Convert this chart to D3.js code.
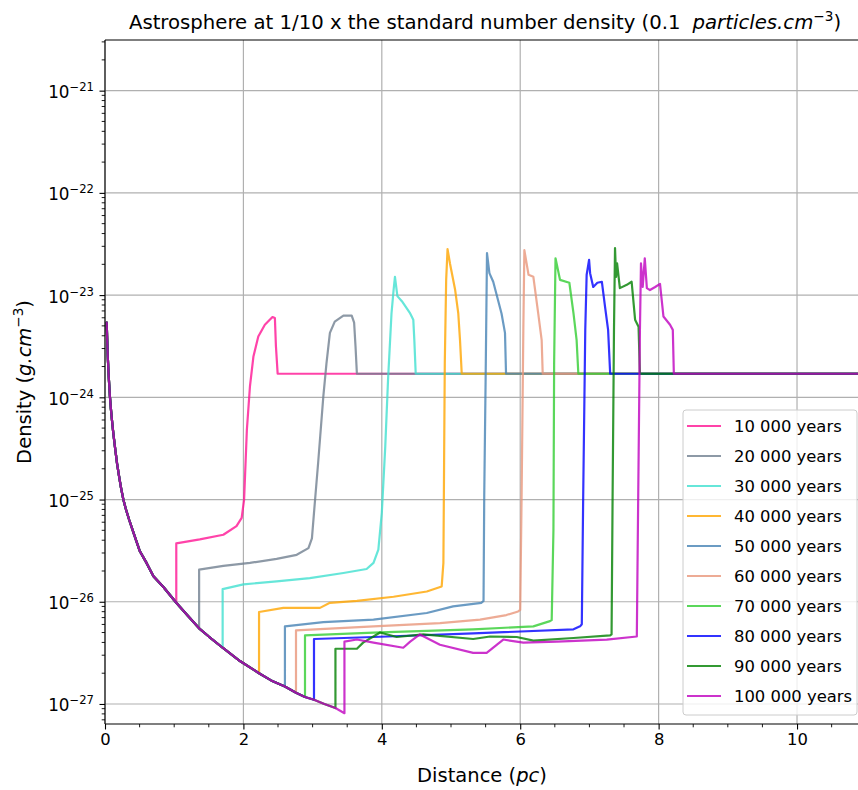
<!DOCTYPE html>
<html>
<head>
<meta charset="utf-8">
<script src="https://cdn.jsdelivr.net/npm/d3@7"></script>
<style>
  body { margin: 0; background: #fff; }
  svg { display: block; }
  text { font-family: "DejaVu Sans", sans-serif; fill: #000; }
</style>
</head>
<body>
<svg id="chart" width="858" height="790"></svg>
<script>
// ---- data: density profiles of the astrosphere (distance in pc, density in g/cm^3) ----
const ageLabels = ["10 000 years", "20 000 years", "30 000 years", "40 000 years", "50 000 years",
                   "60 000 years", "70 000 years", "80 000 years", "90 000 years", "100 000 years"];
const lineColors = ["#ff1493", "#708090", "#40e0d0", "#ffa500", "#4682b4",
                    "#e9967a", "#32cd32", "#0000ff", "#008000", "#bf00bf"];
const xTickValues = [0, 2, 4, 6, 8, 10];
const yTickExponents = [-27, -26, -25, -24, -23, -22, -21];
const xExtent = [0, 10.91];
const yExtent = [6.37e-28, 3.13e-21];
const ambientDensity = 1.70e-24;

// free-flowing stellar wind, common to every epoch
const windProfile = [
  [0.025, 5.37e-24], [0.03, 3.98e-24], [0.035, 3.16e-24], [0.04, 2.51e-24], [0.05, 1.78e-24],
  [0.06, 1.35e-24], [0.072, 1.00e-24], [0.085, 7.76e-25], [0.1, 6.03e-25], [0.12, 4.47e-25],
  [0.15, 3.02e-25], [0.175, 2.24e-25], [0.2, 1.74e-25], [0.23, 1.32e-25], [0.265, 1.00e-25],
  [0.3, 8.13e-26], [0.35, 6.31e-26], [0.42, 4.57e-26], [0.5, 3.16e-26], [0.6, 2.40e-26],
  [0.7, 1.78e-26], [0.85, 1.38e-26], [1.03, 9.77e-27], [1.2, 7.24e-27], [1.36, 5.50e-27],
  [1.5, 4.57e-27], [1.70, 3.55e-27], [1.95, 2.63e-27], [2.226, 2.00e-27], [2.4, 1.70e-27],
  [2.60, 1.48e-27], [2.76, 1.29e-27], [2.89, 1.17e-27], [3.02, 1.10e-27], [3.17, 1.00e-27],
  [3.33, 9.12e-28], [3.46, 8.13e-28]
];

// shocked wind + swept-up shell, from the reverse shock to the forward shock
const shell10k = [
  [1.03, 9.77e-27], [1.03, 3.72e-26], [1.37, 4.07e-26], [1.71, 4.52e-26], [1.90, 5.50e-26],
  [1.975, 6.61e-26], [2.01, 1.00e-25], [2.05, 4.79e-25], [2.095, 1.29e-24], [2.145, 2.51e-24],
  [2.215, 3.94e-24], [2.31, 5.13e-24], [2.42, 6.10e-24], [2.455, 5.96e-24], [2.47, 3.16e-24],
  [2.495, 1.70e-24]
];
const shell20k = [
  [1.36, 5.50e-27], [1.36, 2.06e-26], [1.71, 2.24e-26], [2.095, 2.40e-26], [2.48, 2.63e-26],
  [2.77, 2.88e-26], [2.94, 3.35e-26], [2.99, 4.17e-26], [3.02, 7.41e-26], [3.08, 2.29e-25],
  [3.155, 1.02e-24], [3.20, 2.14e-24], [3.25, 4.27e-24], [3.32, 5.50e-24], [3.445, 6.31e-24],
  [3.565, 6.31e-24], [3.60, 5.37e-24], [3.62, 3.16e-24], [3.64, 1.70e-24]
];
const shell30k = [
  [1.70, 3.55e-27], [1.70, 1.33e-26], [2.0, 1.48e-26], [2.48, 1.58e-26], [2.96, 1.70e-26],
  [3.445, 1.91e-26], [3.78, 2.09e-26], [3.88, 2.40e-26], [3.95, 3.24e-26], [4.0, 7.41e-26],
  [4.05, 3.31e-25], [4.09, 1.48e-24], [4.14, 6.61e-24], [4.17, 1.12e-23], [4.19, 1.51e-23],
  [4.225, 9.77e-24], [4.29, 8.71e-24], [4.41, 6.61e-24], [4.455, 5.75e-24], [4.47, 3.63e-24],
  [4.49, 1.70e-24]
];
const shell40k = [
  [2.226, 2.00e-27], [2.226, 7.94e-27], [2.577, 8.71e-27], [3.107, 8.71e-27], [3.25, 9.77e-27],
  [3.64, 1.02e-26], [4.17, 1.12e-26], [4.65, 1.26e-26], [4.865, 1.41e-26], [4.89, 2.40e-26],
  [4.90, 2.29e-25], [4.91, 2.14e-24], [4.93, 1.41e-23], [4.95, 2.82e-23], [4.985, 2.04e-23],
  [5.06, 1.12e-23], [5.105, 6.61e-24], [5.13, 3.63e-24], [5.155, 1.70e-24]
];
const shell50k = [
  [2.60, 1.48e-27], [2.60, 5.75e-27], [3.155, 6.31e-27], [3.88, 6.68e-27], [4.65, 7.76e-27],
  [5.03, 9.02e-27], [5.44, 9.77e-27], [5.47, 1.02e-26], [5.48, 1.07e-25], [5.50, 1.48e-24],
  [5.52, 2.57e-23], [5.555, 1.64e-23], [5.61, 1.35e-23], [5.73, 6.61e-24], [5.78, 4.27e-24],
  [5.795, 1.70e-24]
];
const shell60k = [
  [2.76, 1.29e-27], [2.76, 5.25e-27], [3.88, 5.75e-27], [4.84, 6.17e-27], [5.42, 6.68e-27],
  [5.80, 7.41e-27], [5.97, 8.04e-27], [6.0, 8.32e-27], [6.02, 1.07e-25], [6.045, 4.57e-24],
  [6.06, 2.75e-23], [6.12, 1.58e-23], [6.19, 1.51e-23], [6.26, 6.61e-24], [6.31, 3.63e-24],
  [6.325, 1.70e-24]
];
const shell70k = [
  [2.89, 1.17e-27], [2.89, 4.68e-27], [3.975, 5.01e-27], [5.32, 5.37e-27], [6.19, 5.75e-27],
  [6.43, 6.46e-27], [6.455, 6.61e-27], [6.48, 5.01e-26], [6.49, 2.14e-24], [6.51, 2.29e-23],
  [6.575, 1.41e-23], [6.71, 1.32e-23], [6.77, 6.61e-24], [6.815, 3.63e-24], [6.84, 1.70e-24]
];
const shell80k = [
  [3.02, 1.10e-27], [3.02, 4.32e-27], [3.88, 4.52e-27], [5.32, 4.90e-27], [6.77, 5.37e-27],
  [6.865, 5.75e-27], [6.89, 6.03e-27], [6.91, 1.07e-25], [6.94, 4.57e-24], [6.96, 1.58e-23],
  [6.995, 2.21e-23], [7.01, 1.64e-23], [7.055, 1.20e-23], [7.115, 1.32e-23], [7.18, 1.35e-23],
  [7.225, 7.76e-24], [7.27, 4.57e-24], [7.30, 1.70e-24]
];
const shell90k = [
  [3.33, 9.12e-28], [3.33, 3.47e-27], [3.64, 3.47e-27], [3.73, 3.98e-27], [3.975, 5.01e-27],
  [4.215, 4.52e-27], [4.60, 4.79e-27], [5.32, 4.32e-27], [5.565, 4.57e-27], [5.95, 4.52e-27],
  [6.19, 4.17e-27], [6.77, 4.42e-27], [7.30, 4.68e-27], [7.32, 4.79e-27], [7.335, 1.07e-25],
  [7.355, 4.57e-24], [7.37, 2.88e-23], [7.385, 1.51e-23], [7.40, 2.04e-23], [7.44, 1.17e-23],
  [7.54, 1.26e-23], [7.61, 1.35e-23], [7.66, 5.75e-24], [7.71, 4.90e-24], [7.73, 1.70e-24]
];
const shell100k = [
  [3.46, 8.13e-28], [3.46, 4.07e-27], [3.64, 4.27e-27], [3.88, 3.98e-27], [4.31, 3.55e-27],
  [4.41, 4.07e-27], [4.55, 4.79e-27], [4.84, 3.80e-27], [5.32, 3.16e-27], [5.515, 3.16e-27],
  [5.755, 4.27e-27], [6.045, 3.98e-27], [6.53, 4.07e-27], [7.25, 4.27e-27], [7.685, 4.57e-27],
  [7.705, 1.07e-25], [7.73, 4.57e-24], [7.745, 2.04e-23], [7.77, 1.20e-23], [7.80, 2.29e-23],
  [7.83, 1.17e-23], [7.875, 1.12e-23], [7.95, 1.20e-23], [8.02, 1.29e-23], [8.07, 6.17e-24],
  [8.165, 5.13e-24], [8.205, 4.57e-24], [8.22, 1.70e-24]
];
const shells = [shell10k, shell20k, shell30k, shell40k, shell50k,
                shell60k, shell70k, shell80k, shell90k, shell100k];

// ---- layout ----
const svg = d3.select("#chart");
const plot = { left: 105, right: 860, top: 40, bottom: 724 };

const x = d3.scaleLinear().domain(xExtent).range([plot.left, plot.right]);
const y = d3.scaleLog().domain(yExtent).range([plot.bottom, plot.top]);

// full profile of each epoch: wind inside the reverse shock, shell, then ambient medium
const series = shells.map((shell, i) => {
  const rs = shell[0][0];
  const points = windProfile.filter(d => d[0] < rs).concat(shell);
  points.push([xExtent[1], ambientDensity]);
  return { label: ageLabels[i], color: lineColors[i], points };
});

svg.append("defs").append("clipPath").attr("id", "plot-clip")
  .append("rect")
  .attr("x", plot.left).attr("y", plot.top)
  .attr("width", plot.right - plot.left).attr("height", plot.bottom - plot.top);

// grid
const grid = svg.append("g").attr("stroke", "#b0b0b0").attr("stroke-width", 1.2);
grid.selectAll("line.gx").data(xTickValues).join("line")
  .attr("x1", d => x(d)).attr("x2", d => x(d))
  .attr("y1", plot.top).attr("y2", plot.bottom);
grid.selectAll("line.gy").data(yTickExponents).join("line")
  .attr("x1", plot.left).attr("x2", plot.right)
  .attr("y1", d => y(Math.pow(10, d))).attr("y2", d => y(Math.pow(10, d)));

// density curves
const line = d3.line().x(d => x(d[0])).y(d => y(d[1]));
svg.append("g").attr("clip-path", "url(#plot-clip)")
  .selectAll("path").data(series).join("path")
  .attr("d", d => line(d.points))
  .attr("fill", "none")
  .attr("stroke", d => d.color)
  .attr("stroke-opacity", 0.8)
  .attr("stroke-width", 2.2)
  .attr("stroke-linejoin", "round")
  .attr("stroke-linecap", "round");

// spines
const spines = svg.append("g").attr("stroke", "#000").attr("stroke-width", 1.1);
spines.append("line").attr("x1", plot.left).attr("x2", plot.right).attr("y1", plot.top).attr("y2", plot.top);
spines.append("line").attr("x1", plot.left).attr("x2", plot.right).attr("y1", plot.bottom).attr("y2", plot.bottom);
spines.append("line").attr("x1", plot.left).attr("x2", plot.left).attr("y1", plot.top).attr("y2", plot.bottom);

// x axis
const xAxis = d3.axisBottom(x).tickValues(xTickValues).tickSize(5.5).tickPadding(4).tickFormat(d3.format("d"));
const gx = svg.append("g").attr("transform", `translate(0,${plot.bottom})`).call(xAxis);
gx.select(".domain").remove();
gx.selectAll("line").attr("stroke", "#000").attr("stroke-width", 1.1);
gx.selectAll("text").style("font-size", "16.4px").style("font-family", "DejaVu Sans");
const xMinor = d3.range(0.5, xExtent[1], 0.5).filter(v => !xTickValues.includes(v));
svg.append("g").selectAll("line").data(xMinor).join("line")
  .attr("x1", d => x(d)).attr("x2", d => x(d))
  .attr("y1", plot.bottom).attr("y2", plot.bottom + 3.3)
  .attr("stroke", "#000").attr("stroke-width", 0.9);

// y axis (log)
const yMajor = yTickExponents.map(e => Math.pow(10, e));
const yAxis = d3.axisLeft(y).tickValues(yMajor).tickSize(5.5).tickFormat("");
const gy = svg.append("g").attr("transform", `translate(${plot.left},0)`).call(yAxis);
gy.select(".domain").remove();
gy.selectAll("line").attr("stroke", "#000").attr("stroke-width", 1.1);
const yLabels = svg.append("g").selectAll("text").data(yTickExponents).join("text")
  .attr("x", 94).attr("y", d => y(Math.pow(10, d)) + 7.5)
  .attr("text-anchor", "end")
  .style("font-size", "16.8px");
yLabels.append("tspan").text("10");
yLabels.append("tspan").attr("dy", -7).style("font-size", "11.6px").text(d => "\u2212" + Math.abs(d));

const yMinor = [];
for (let e = -28; e <= -21; e++) {
  for (let m = 2; m <= 9; m++) {
    const v = m * Math.pow(10, e);
    if (v > yExtent[0] && v < yExtent[1]) yMinor.push(v);
  }
}
svg.append("g").selectAll("line").data(yMinor).join("line")
  .attr("x1", plot.left - 3.3).attr("x2", plot.left)
  .attr("y1", d => y(d)).attr("y2", d => y(d))
  .attr("stroke", "#000").attr("stroke-width", 0.9);

// title
const title = svg.append("text").attr("x", 485).attr("y", 29)
  .attr("text-anchor", "middle").style("font-size", "19.7px");
title.append("tspan").text("Astrosphere at 1/10 x the standard number density (0.1");
title.append("tspan").attr("dx", 12).style("font-style", "italic").text("particles.cm");
title.append("tspan").attr("dy", -8).style("font-size", "13.6px").text("\u22123");
title.append("tspan").attr("dy", 8).text(")");

// axis labels
const xLabel = svg.append("text").attr("x", 482).attr("y", 782)
  .attr("text-anchor", "middle").style("font-size", "19.5px");
xLabel.append("tspan").text("Distance (");
xLabel.append("tspan").style("font-style", "italic").text("pc");
xLabel.append("tspan").text(")");

const yLabel = svg.append("text")
  .attr("transform", "translate(31,382) rotate(-90)")
  .attr("text-anchor", "middle").style("font-size", "19.5px");
yLabel.append("tspan").text("Density (");
yLabel.append("tspan").style("font-style", "italic").text("g.cm");
yLabel.append("tspan").attr("dy", -8).style("font-size", "13.5px").text("\u22123");
yLabel.append("tspan").attr("dy", 8).text(")");

// legend
const legend = svg.append("g");
legend.append("rect")
  .attr("x", 683).attr("y", 410).attr("width", 174).attr("height", 305)
  .attr("rx", 3).attr("fill", "#fff").attr("fill-opacity", 0.8)
  .attr("stroke", "#cccccc").attr("stroke-width", 1);
const rows = legend.selectAll("g.row").data(series).join("g")
  .attr("transform", (d, i) => `translate(0,${426 + i * 30})`);
rows.append("line")
  .attr("x1", 687).attr("x2", 721).attr("y1", 0).attr("y2", 0)
  .attr("stroke", d => d.color).attr("stroke-opacity", 0.8).attr("stroke-width", 2.2);
rows.append("text")
  .attr("x", 734).attr("y", 6)
  .style("font-size", "16.4px")
  .text(d => d.label);
</script>
</body>
</html>
